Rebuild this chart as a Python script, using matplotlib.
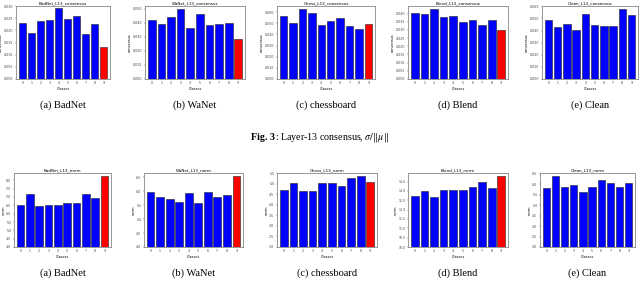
import matplotlib
matplotlib.use("Agg")
import matplotlib.pyplot as plt
import numpy as np

plt.rcParams['mathtext.fontset'] = 'stix'

classes = [0, 1, 2, 3, 4, 5, 6, 7, 8, 9]

# Top row: Layer-13 consensus
cons_badnet = [0.0229, 0.0191, 0.0239, 0.0241, 0.0292, 0.0247, 0.0259, 0.0185, 0.0226, 0.0131]
cons_wanet = [0.0416, 0.0388, 0.0440, 0.0495, 0.0360, 0.0465, 0.0384, 0.0388, 0.0395, 0.0284]
cons_chess = [0.0565, 0.0503, 0.0626, 0.0594, 0.0485, 0.0521, 0.0550, 0.0474, 0.0453, 0.0491]
cons_blend = [0.0406, 0.0398, 0.0426, 0.0378, 0.0386, 0.0346, 0.0358, 0.0330, 0.0362, 0.0298]
cons_clean = [0.0484, 0.0430, 0.0451, 0.0405, 0.0535, 0.0446, 0.0438, 0.0438, 0.0576, 0.0527]

# Bottom row
norm_badnet = [6.52, 7.18, 6.44, 6.54, 6.52, 6.62, 6.62, 7.18, 6.96, 8.26]
norm_wanet = [5.95, 5.77, 5.73, 5.60, 5.92, 5.58, 5.95, 5.79, 5.87, 6.54]
norm_chess = [4.69, 5.05, 4.64, 4.67, 5.02, 5.04, 4.91, 5.28, 5.37, 5.09]
norm_blend = [12.71, 12.98, 12.66, 13.07, 13.04, 13.07, 13.23, 13.48, 13.14, 13.80]
norm_clean = [5.83, 6.39, 5.88, 5.96, 5.61, 5.88, 6.18, 6.07, 5.88, 6.04]

top_titles = ["BadNet_L13_consensus", "WaNet_L13_consensus", "Chess_L13_consensus",
              "Blend_L13_consensus", "Clean_L13_consensus"]
bot_titles = ["BadNet_L13_norm", "WaNet_L13_norm", "Chess_L13_norm",
              "Blend_L13_norm", "Clean_L13_norm"]
captions = ["(a) BadNet", "(b) WaNet", "(c) chessboard", "(d) Blend", "(e) Clean"]
target = [9, 9, 9, 9, None]

top_data = [cons_badnet, cons_wanet, cons_chess, cons_blend, cons_clean]
top_ylim = [(0, 0.030), (0, 0.0519), (0, 0.0656), (0, 0.0446), (0, 0.0603)]
top_step = [0.005, 0.01, 0.01, 0.005, 0.01]
bot_data = [norm_badnet, norm_wanet, norm_chess, norm_blend, norm_clean]
bot_ylim = [(4.0, 8.44), (4.0, 6.643), (2.0, 5.51), (10.0, 13.96), (3.0, 6.535)]
bot_step = [0.5, 0.5, 0.5, 0.5, 0.5]

W, H = 640, 298
fig = plt.figure(figsize=(6.4, 2.98), dpi=100)

top_x = [(16, 110), (145, 245), (277, 375), (408, 508), (542, 638)]
bot_x = [(14, 111), (144, 243), (277, 377), (408, 508), (540, 635)]


def make_ax(x0, x1, y0, y1):
    return fig.add_axes([x0 / W, 1 - y1 / H, (x1 - x0) / W, (y1 - y0) / H])


def draw(ax, vals, ylim, step, title, ylabel, tgt):
    colors = ['red' if (tgt is not None and i == tgt) else 'blue' for i in range(len(vals))]
    ax.bar(classes, vals, width=0.8, color=colors, edgecolor='#202020', linewidth=0.4)
    ax.set_ylim(*ylim)
    ax.set_xlim(-0.7, 9.7)
    ticks = np.arange(ylim[0], ylim[1] + 1e-9, step)
    ax.set_yticks(ticks)
    ax.set_yticklabels([f"{t:.3f}" if step < 0.1 else f"{t:.1f}" for t in ticks])
    ax.set_xticks(classes)
    ax.tick_params(labelsize=2.3, length=1, width=0.3, pad=0.8, colors='#444444')
    ax.set_title(title, fontsize=3, pad=1.5)
    ax.set_xlabel("Classes", fontsize=2.5, labelpad=1)
    ax.set_ylabel(ylabel, fontsize=2.5, labelpad=0.8)
    for s in ax.spines.values():
        s.set_color('#888888')
        s.set_linewidth(0.6)


for i in range(5):
    ax = make_ax(top_x[i][0], top_x[i][1], 6, 79)
    draw(ax, top_data[i], top_ylim[i], top_step[i], top_titles[i], "consensus", target[i])
    ax2 = make_ax(bot_x[i][0], bot_x[i][1], 173, 247)
    draw(ax2, bot_data[i], bot_ylim[i], bot_step[i], bot_titles[i], "norm", target[i])
    cx = (top_x[i][0] + top_x[i][1]) / 2
    fig.text(cx / W, 1 - 105 / H, captions[i], ha='center', va='center',
             fontsize=7.5, family='Liberation Serif')
    cxb = (bot_x[i][0] + bot_x[i][1]) / 2
    fig.text(cxb / W, 1 - 273 / H, captions[i], ha='center', va='center',
             fontsize=7.5, family='Liberation Serif')

# Figure caption with bold prefix
renderer = fig.canvas.get_renderer()
ycap = 1 - 137 / H
t1 = fig.text(0, ycap, "Fig. 3", ha='left', va='center', fontsize=7.2,
              family='Liberation Serif', weight='bold')
t2 = fig.text(0, ycap, r": Layer-13 consensus, $\sigma/\|\mu\|$", ha='left', va='center',
              fontsize=7.2, family='Liberation Serif')
w1 = t1.get_window_extent(renderer).width
w2 = t2.get_window_extent(renderer).width
start = (320 - (w1 + w2) / 2)
t1.set_x(start / W)
t2.set_x((start + w1) / W)

fig.savefig("out.png", dpi=100)
